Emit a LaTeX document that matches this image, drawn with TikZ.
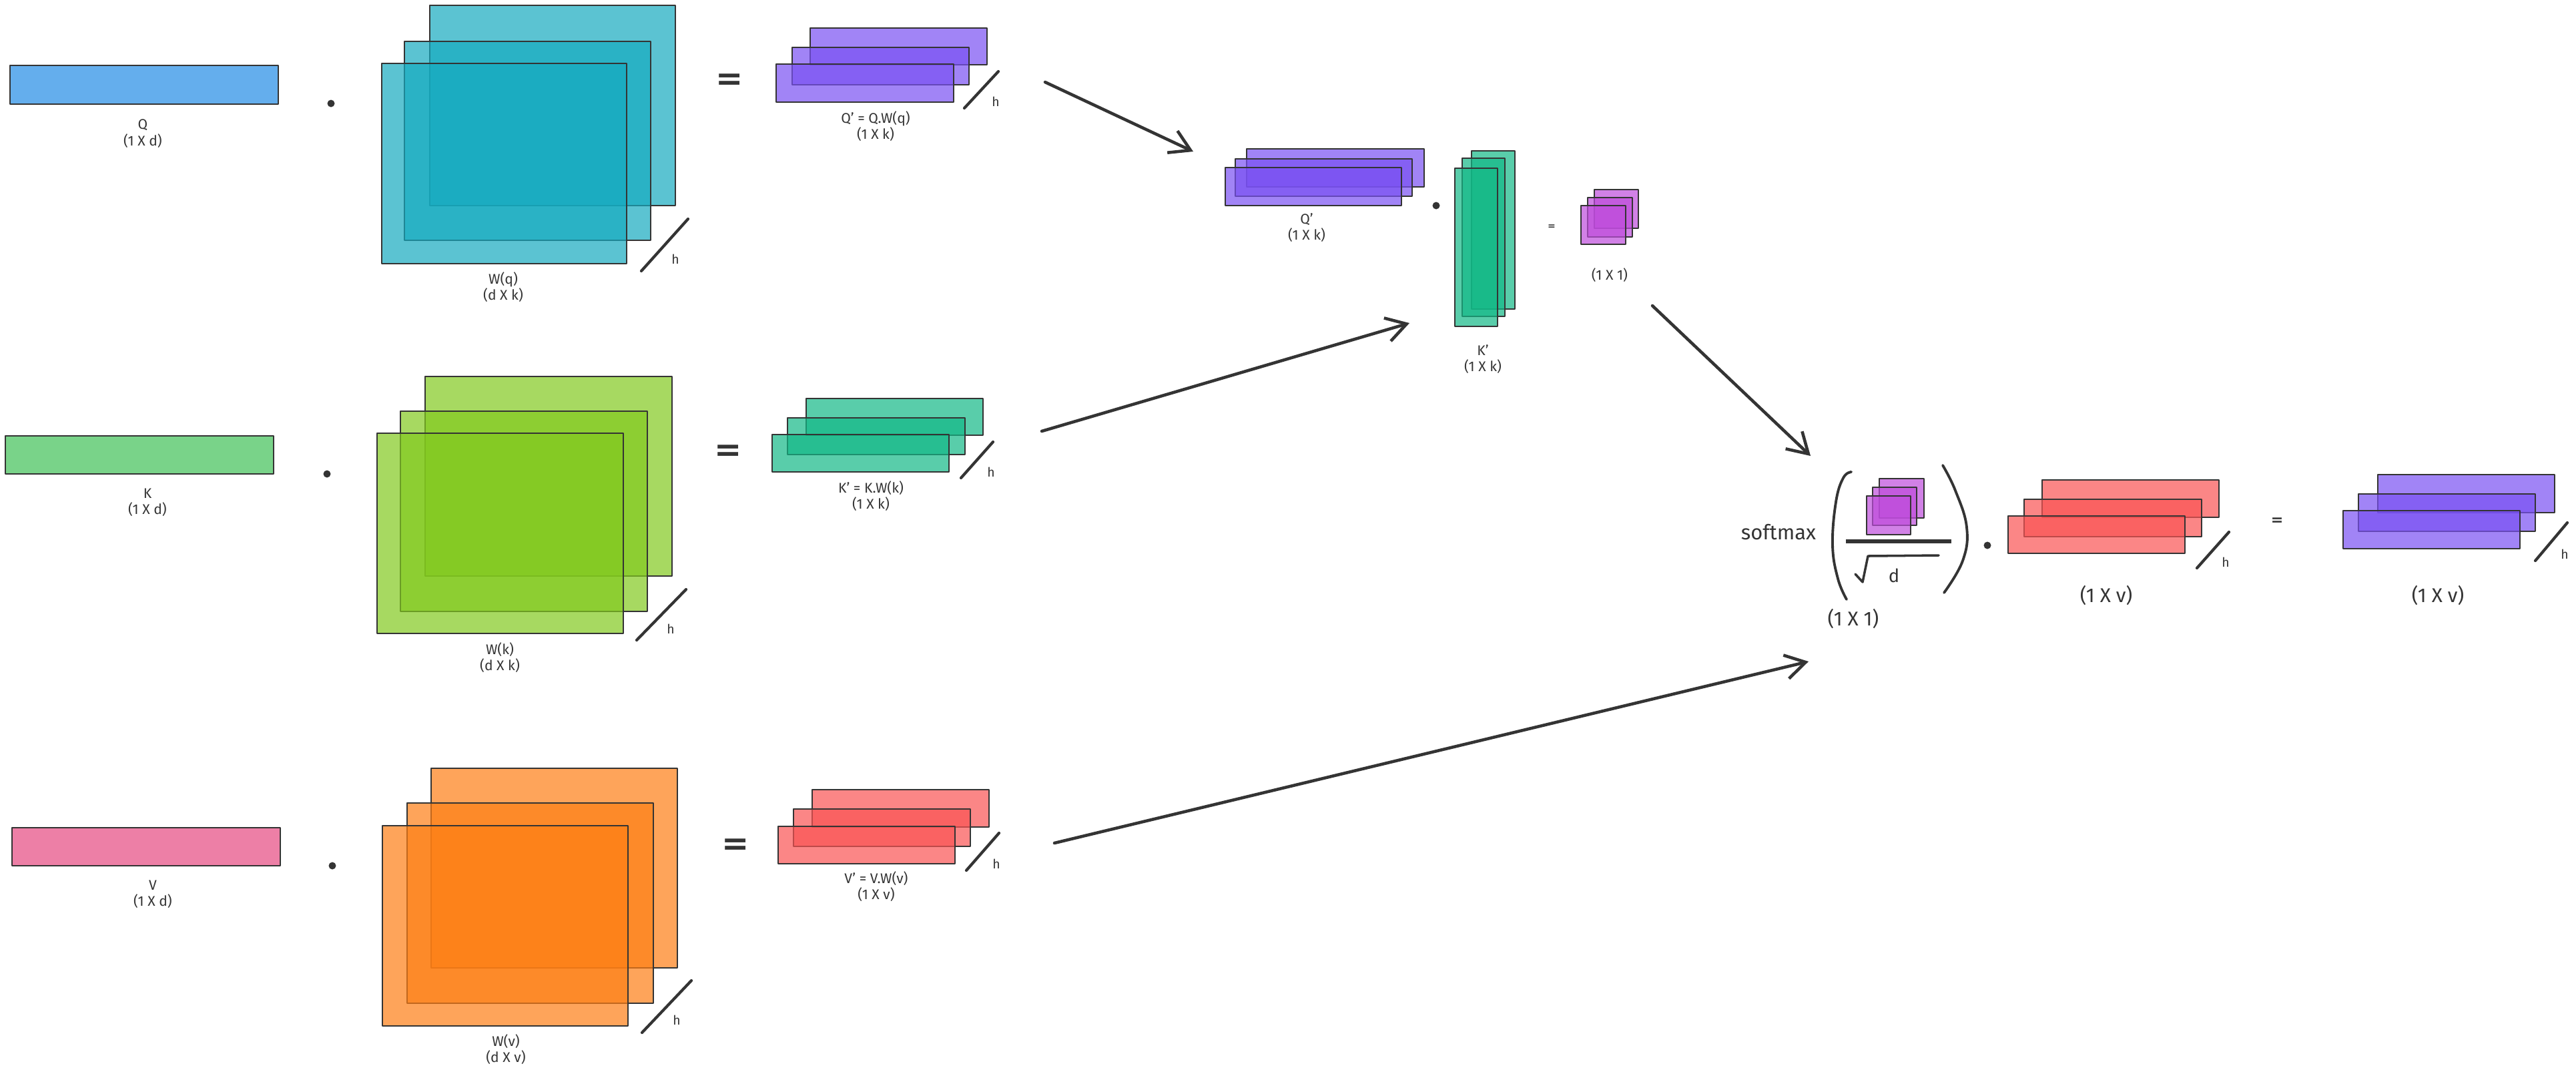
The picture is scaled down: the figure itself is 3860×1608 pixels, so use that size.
\documentclass[tikz,border=0pt]{standalone}
\usepackage{fontspec}
\setmainfont{Fira Sans}
\newfontfamily\eqfont{DejaVu Sans}
\usetikzlibrary{arrows.meta}
\definecolor{ink}{HTML}{343434}
\definecolor{cblue}{HTML}{228BE6}
\definecolor{cgreen}{HTML}{40C057}
\definecolor{cpink}{HTML}{E64980}
\definecolor{ccyan}{HTML}{15AABF}
\definecolor{clime}{HTML}{82C91E}
\definecolor{corange}{HTML}{FD7E14}
\definecolor{cviolet}{HTML}{7950F2}
\definecolor{cteal}{HTML}{12B886}
\definecolor{cred}{HTML}{FA5252}
\definecolor{cgrape}{HTML}{BE4BDB}
\begin{document}
\begin{tikzpicture}[x=0.01cm,y=-0.01cm,
  mat/.style={draw=ink, line width=0.7pt, fill opacity=0.7, line join=round},
  lbl/.style={text=ink, font=\fontsize{6}{6.9}\selectfont, align=center, inner sep=0pt},
  big/.style={text=ink, font=\fontsize{8.5}{10}\selectfont, inner sep=0pt},
  hlbl/.style={text=ink, font=\fontsize{5.5}{6}\selectfont, inner sep=0pt},
  mult/.style={circle, fill=ink, inner sep=0pt, minimum size=0.11cm},
  eqbig/.style={text=ink, font=\eqfont\bfseries\fontsize{14}{14}\selectfont, inner sep=0pt},
  slash/.style={draw=ink, line width=1.2pt, line cap=round},
  stroke/.style={draw=ink, line width=1.1pt, line cap=round, line join=round},
  flow/.style={draw=ink, line width=1.3pt, line cap=round, -{Straight Barb[length=0.3cm, width=0.36cm]}},
]
\useasboundingbox (0,0) rectangle (3860,1608);

% ---------- Row 1 : Q ----------
\draw[mat, fill=cblue] (15,98) rectangle (417,156);
\node[lbl] (qlab) at (214,200) {Q\\(1 X d)};
\node[mult] (dot1) at (496,155) {};
\draw[mat, fill=ccyan] (644,8) rectangle (1012,308);
\draw[mat, fill=ccyan] (606,62) rectangle (975,360);
\draw[mat, fill=ccyan] (572,95) rectangle (939,395);
\draw[slash] (1031,328) -- (961,406);
\node[hlbl] (h1) at (1012,388) {h};
\node[lbl] (wqlab) at (754,430) {W(q)\\(d X k)};
\node[eqbig] (eq1) at (1093,123) {=};
\draw[mat, fill=cviolet] (1214,42) rectangle (1479,97);
\draw[mat, fill=cviolet] (1187,71) rectangle (1452,127);
\draw[mat, fill=cviolet] (1163,96) rectangle (1429,153);
\draw[slash] (1496,107) -- (1445,162);
\node[hlbl] (h2) at (1492,152) {h};
\node[lbl] (qplab) at (1312,189) {Q' = Q.W(q)\\(1 X k)};

% ---------- Row 2 : K ----------
\draw[mat, fill=cgreen] (8,653) rectangle (410,710);
\node[lbl] (klab) at (221,753) {K\\(1 X d)};
\node[mult] (dot2) at (490,710) {};
\draw[mat, fill=clime] (637,564) rectangle (1007,863);
\draw[mat, fill=clime] (600,616) rectangle (970,916);
\draw[mat, fill=clime] (565,649) rectangle (934,949);
\draw[slash] (1028,883) -- (954,959);
\node[hlbl] (h3) at (1005,942) {h};
\node[lbl] (wklab) at (749,985) {W(k)\\(d X k)};
\node[eqbig] (eq2) at (1091,679) {=};
\draw[mat, fill=cteal] (1208,597) rectangle (1473,652);
\draw[mat, fill=cteal] (1180,626) rectangle (1446,681);
\draw[mat, fill=cteal] (1157,651) rectangle (1422,707);
\draw[slash] (1488,662) -- (1440,716);
\node[hlbl] (h4) at (1485,707) {h};
\node[lbl] (kplab) at (1305,743) {K' = K.W(k)\\(1 X k)};

% ---------- Row 3 : V ----------
\draw[mat, fill=cpink] (18,1240) rectangle (420,1297);
\node[lbl] (vlab) at (229,1340) {V\\(1 X d)};
\node[mult] (dot3) at (498,1297) {};
\draw[mat, fill=corange] (646,1151) rectangle (1015,1450);
\draw[mat, fill=corange] (610,1203) rectangle (979,1503);
\draw[mat, fill=corange] (573,1237) rectangle (941,1537);
\draw[slash] (1036,1469) -- (962,1547);
\node[hlbl] (h5) at (1014,1528) {h};
\node[lbl] (wvlab) at (758,1572) {W(v)\\(d X v)};
\node[eqbig] (eq3) at (1102,1269) {=};
\draw[mat, fill=cred] (1217,1183) rectangle (1482,1239);
\draw[mat, fill=cred] (1189,1212) rectangle (1454,1268);
\draw[mat, fill=cred] (1166,1238) rectangle (1431,1294);
\draw[slash] (1497,1248) -- (1448,1304);
\node[hlbl] (h6) at (1493,1294) {h};
\node[lbl] (vplab) at (1313,1328) {V' = V.W(v)\\(1 X v)};

% ---------- Middle : Q'.K' ----------
\draw[mat, fill=cviolet] (1868,223) rectangle (2134,280);
\draw[mat, fill=cviolet] (1851,238) rectangle (2116,294);
\draw[mat, fill=cviolet] (1836,251) rectangle (2100,308);
\node[lbl] (qmlab) at (1958,341) {Q'\\(1 X k)};
\node[mult] (dot4) at (2152,308) {};
\draw[mat, fill=cteal] (2205,226) rectangle (2270,463);
\draw[mat, fill=cteal] (2191,237) rectangle (2255,474);
\draw[mat, fill=cteal] (2180,252) rectangle (2244,489);
\node[lbl] (kmlab) at (2222,538) {K'\\(1 X k)};
\node[text=ink, font=\eqfont\bfseries\fontsize{4}{4}\selectfont, inner sep=0pt] (eq4) at (2325,340) {=};
\draw[mat, fill=cgrape] (2389,284) rectangle (2455,342);
\draw[mat, fill=cgrape] (2379,296) rectangle (2446,355);
\draw[mat, fill=cgrape] (2369,308) rectangle (2436,366);
\node[lbl] (s1lab) at (2412,412) {(1 X 1)};

% ---------- Right : softmax ----------
\node[big, font=\fontsize{8.8}{10}\selectfont] (smax) at (2665,797) {softmax};
\draw[stroke] plot[smooth, tension=0.7] coordinates {(2774,707) (2762,716) (2751,752) (2746,817) (2754,867) (2767,898)};
\draw[stroke] plot[smooth, tension=0.7] coordinates {(2911,697) (2930,735) (2947,790) (2941,840) (2913,888)};
\draw[mat, fill=cgrape] (2816,717) rectangle (2883,776);
\draw[mat, fill=cgrape] (2806,730) rectangle (2872,787);
\draw[mat, fill=cgrape] (2797,743) rectangle (2863,801);
\draw[draw=ink, line width=1.5pt] (2766,811) -- (2924,811);
\draw[stroke, line width=1.0pt] (2780,860) -- (2791,872) -- (2799,833) -- (2905,832);
\node[big, font=\fontsize{7.8}{9}\selectfont] (dlab) at (2838,862) {d};
\node[big] (s2lab) at (2777,927) {(1 X 1)};
\node[mult] (dot5) at (2978,817) {};
\draw[mat, fill=cred] (3060,719) rectangle (3325,775);
\draw[mat, fill=cred] (3033,748) rectangle (3299,804);
\draw[mat, fill=cred] (3009,773) rectangle (3274,829);
\draw[slash] (3340,797) -- (3292,851);
\node[hlbl] (h7) at (3335,842) {h};
\node[big] (vmlab) at (3156,892) {(1 X v)};
\node[text=ink, font=\eqfont\bfseries\fontsize{6.3}{6.3}\selectfont, inner sep=0pt] (eq5) at (3412,781) {=};
\draw[mat, fill=cviolet] (3563,711) rectangle (3828,768);
\draw[mat, fill=cviolet] (3534,740) rectangle (3799,796);
\draw[mat, fill=cviolet] (3511,765) rectangle (3776,822);
\draw[slash] (3847,783) -- (3799,840);
\node[hlbl] (h8) at (3843,830) {h};
\node[big] (outlab) at (3653,892) {(1 X v)};

% ---------- Arrows ----------
\coordinate (qout) at (1566,123);
\coordinate (qin) at (1788,227);
\coordinate (kout) at (1561,646);
\coordinate (kin) at (2112,484);
\coordinate (sout) at (2476,458);
\coordinate (sin) at (2713,683);
\coordinate (vout) at (1580,1263);
\coordinate (vin) at (2710,991);
\draw[flow] (qout) -- (qin);
\draw[flow] (kout) -- (kin);
\draw[flow] (sout) -- (sin);
\draw[flow] (vout) -- (vin);
\end{tikzpicture}
\end{document}
